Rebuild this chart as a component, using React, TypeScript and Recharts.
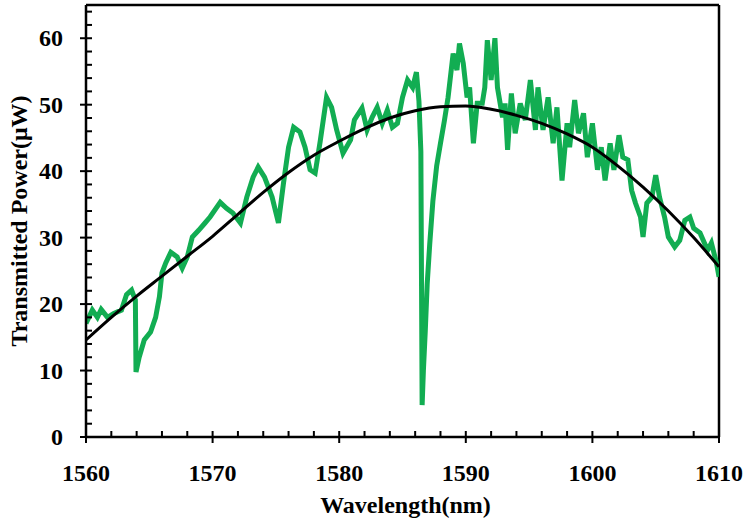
import React from "react";
import { LineChart, Line, XAxis, YAxis, ReferenceLine } from "recharts";

const wavelength = [
  1560.0, 1560.5, 1560.9, 1561.2, 1561.7, 1562.2, 1562.8, 1563.2, 1563.6, 1563.9,
  1563.95, 1564.2, 1564.6, 1565.1, 1565.5, 1565.8, 1566.0, 1566.3, 1566.7, 1567.2,
  1567.6, 1568.0, 1568.4, 1568.9, 1569.4, 1569.8, 1570.6, 1571.1, 1571.6, 1572.2,
  1572.7, 1573.2, 1573.6, 1574.1, 1574.7, 1575.2, 1575.6, 1576.0, 1576.4, 1576.9,
  1577.3, 1577.7, 1578.1, 1578.5, 1579.0, 1579.4, 1579.8, 1580.3, 1580.9, 1581.2,
  1581.8, 1582.2, 1582.6, 1583.0, 1583.4, 1583.8, 1584.2, 1584.6, 1585.0, 1585.4,
  1585.8, 1586.1, 1586.3, 1586.45, 1586.55, 1586.65, 1586.8, 1586.95, 1587.15, 1587.4,
  1587.7, 1588.0, 1588.3, 1588.6, 1589.0, 1589.3, 1589.5, 1589.8, 1590.1, 1590.3,
  1590.6, 1590.9, 1591.3, 1591.5, 1591.7, 1592.0, 1592.3, 1592.5, 1592.9, 1593.1,
  1593.3, 1593.6, 1593.9, 1594.3, 1594.7, 1595.1, 1595.5, 1595.7, 1596.1, 1596.5,
  1596.9, 1597.2, 1597.6, 1598.0, 1598.2, 1598.6, 1598.9, 1599.3, 1599.6, 1600.0,
  1600.4, 1600.7, 1601.0, 1601.4, 1601.7, 1602.1, 1602.4, 1602.8, 1603.1, 1603.4,
  1603.8, 1604.0, 1604.3, 1604.7, 1605.0, 1605.3, 1605.7, 1606.0, 1606.5, 1606.9,
  1607.3, 1607.7, 1608.0, 1608.5, 1609.1, 1609.4, 1609.8, 1610.0,
];
const power = [
  17.1, 19.1, 18.0, 19.2, 18.0, 18.6, 19.1, 21.4, 22.1, 20.6,
  9.8, 12.0, 14.6, 15.8, 18.0, 21.1, 24.7, 26.2, 27.8, 27.1,
  25.4, 27.1, 30.1, 31.1, 32.2, 33.1, 35.3, 34.4, 33.7, 32.2,
  36.1, 39.1, 40.6, 39.1, 36.1, 32.2, 38.2, 43.6, 46.6, 45.9,
  43.6, 40.2, 39.7, 44.5, 51.1, 49.6, 46.2, 42.7, 44.7, 47.7,
  49.5, 46.2, 48.1, 49.6, 47.2, 49.2, 46.6, 47.2, 51.1, 53.7,
  52.6, 54.9, 50.5, 43.0, 4.8, 10.0, 16.0, 23.0, 29.0, 35.5,
  40.8, 44.2, 47.5, 51.1, 57.7, 55.2, 59.2, 56.2, 51.1, 52.6,
  44.2, 50.2, 50.2, 52.6, 59.7, 53.7, 60.0, 52.6, 48.1, 50.2,
  43.2, 51.7, 45.7, 50.2, 47.7, 53.7, 46.2, 52.6, 46.2, 51.1,
  44.2, 49.6, 38.6, 47.2, 43.6, 50.7, 45.7, 48.7, 42.1, 47.2,
  40.2, 43.6, 38.6, 44.2, 40.2, 45.4, 42.1, 41.7, 37.1, 35.2,
  33.1, 30.1, 35.2, 36.1, 39.4, 36.1, 33.1, 30.1, 28.6, 29.6,
  32.6, 33.1, 31.4, 30.7, 28.1, 29.2, 26.2, 24.1,
];

// fitted envelope (black curve)
const fitWavelength = [
  1560, 1562, 1564, 1566, 1568, 1570, 1572, 1574, 1576, 1578, 1580, 1582, 1584,
  1586, 1588, 1590, 1592, 1594, 1596, 1598, 1600, 1602, 1604, 1606, 1608, 1610,
];
const fitPower = [
  14.6, 18.0, 21.2, 24.2, 27.2, 30.2, 33.5, 36.8, 39.8, 42.4, 44.5, 46.4, 48.0,
  49.1, 49.7, 49.8, 49.3, 48.4, 47.2, 45.6, 43.6, 40.8, 37.6, 34.0, 30.0, 25.6,
];

const xTicks = [
  1560, 1562, 1564, 1566, 1568, 1570, 1572, 1574, 1576, 1578, 1580, 1582, 1584,
  1586, 1588, 1590, 1592, 1594, 1596, 1598, 1600, 1602, 1604, 1606, 1608, 1610,
];
const yTicks = [
  0, 2, 4, 6, 8, 10, 12, 14, 16, 18, 20, 22, 24, 26, 28, 30, 32, 34, 36, 38, 40,
  42, 44, 46, 48, 50, 52, 54, 56, 58, 60, 62, 64,
];

const measured = wavelength.map((w, i) => ({ w, p: power[i] }));
const fitted = fitWavelength.map((w, i) => ({ w, p: fitPower[i] }));

const SERIF = "Liberation Serif";
const FS = 24;

// ticks drawn by hand: majors cross the axis and carry a label, minors point inward
const XTick = ({ x, y, payload }: any) => {
  const major = payload.value % 10 === 0;
  return (
    <g>
      <line x1={x} x2={x} y1={y - 6} y2={major ? y + 6 : y} stroke="#000" strokeWidth={2} />
      {major && (
        <text x={x} y={y + 44} textAnchor="middle" fontFamily={SERIF} fontWeight={700} fontSize={FS} fill="#000">
          {payload.value}
        </text>
      )}
    </g>
  );
};

const YTick = ({ x, y, payload }: any) => {
  const major = payload.value % 10 === 0;
  return (
    <g>
      <line x1={major ? x - 6 : x} x2={x + 6} y1={y} y2={y} stroke="#000" strokeWidth={2} />
      {major && (
        <text x={x - 23} y={y + 8} textAnchor="end" fontFamily={SERIF} fontWeight={700} fontSize={FS} fill="#000">
          {payload.value}
        </text>
      )}
    </g>
  );
};

const XTitle = ({ viewBox }: any) => (
  <text
    x={viewBox.x + viewBox.width / 2 + 3}
    y={viewBox.y + 76}
    textAnchor="middle"
    fontFamily={SERIF}
    fontWeight={700}
    fontSize={FS}
    fill="#000"
  >
    Wavelength(nm)
  </text>
);

const YTitle = ({ viewBox }: any) => {
  const cx = viewBox.x + 27;
  const cy = viewBox.y + viewBox.height / 2;
  return (
    <text
      x={cx}
      y={cy}
      transform={`rotate(-90, ${cx}, ${cy})`}
      textAnchor="middle"
      fontFamily={SERIF}
      fontWeight={700}
      fontSize={FS}
      fill="#000"
    >
      Transmitted Power(μW)
    </text>
  );
};

export default function App() {
  return (
    <div style={{ position: "fixed", top: 0, left: 0, background: "#fff", width: 747, height: 521 }}>
      <LineChart width={747} height={521} margin={{ top: 5, right: 28, left: 0, bottom: 0 }}>
        <XAxis
          dataKey="w"
          type="number"
          domain={[1560, 1610]}
          ticks={xTicks}
          interval={0}
          tick={<XTick />}
          tickLine={false}
          tickSize={0}
          tickMargin={0}
          height={84}
          axisLine={{ stroke: "#000", strokeWidth: 2.5 }}
          allowDataOverflow
          label={<XTitle />}
        />
        <YAxis
          type="number"
          domain={[0, 65]}
          ticks={yTicks}
          interval={0}
          tick={<YTick />}
          tickLine={false}
          tickSize={0}
          tickMargin={0}
          width={86}
          axisLine={{ stroke: "#000", strokeWidth: 2.5 }}
          allowDataOverflow
          label={<YTitle />}
        />
        <ReferenceLine y={65} stroke="#000" strokeWidth={2.5} />
        <ReferenceLine x={1610} stroke="#000" strokeWidth={2.5} />
        <Line
          data={measured}
          dataKey="p"
          type="linear"
          stroke="#12AD52"
          strokeWidth={5}
          dot={false}
          isAnimationActive={false}
        />
        <Line
          data={fitted}
          dataKey="p"
          type="monotone"
          stroke="#000"
          strokeWidth={3}
          dot={false}
          isAnimationActive={false}
        />
      </LineChart>
    </div>
  );
}
